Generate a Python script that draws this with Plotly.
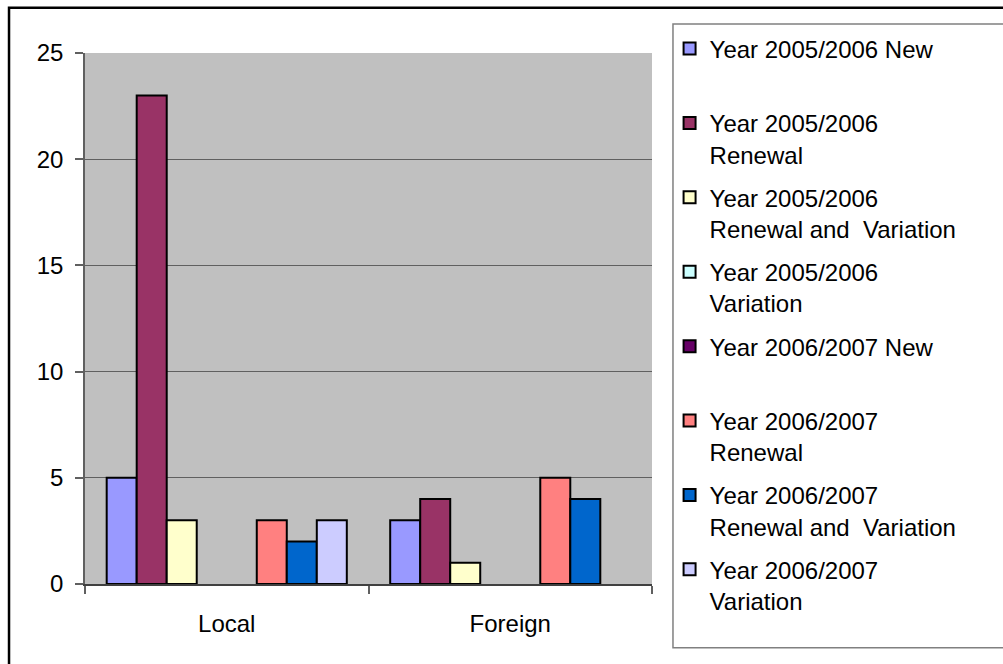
import plotly.graph_objects as go

categories = ["Local", "Foreign"]

series_names = [
    "Year 2005/2006 New<br>\u00a0",
    "Year 2005/2006<br>Renewal",
    "Year 2005/2006<br>Renewal and \u00a0Variation",
    "Year 2005/2006<br>Variation",
    "Year 2006/2007 New<br>\u00a0",
    "Year 2006/2007<br>Renewal",
    "Year 2006/2007<br>Renewal and \u00a0Variation",
    "Year 2006/2007<br>Variation",
]

new_0506 = [5, 3]
renewal_0506 = [23, 4]
renewal_var_0506 = [3, 1]
variation_0506 = [None, None]
new_0607 = [None, None]
renewal_0607 = [3, 5]
renewal_var_0607 = [2, 4]
variation_0607 = [3, None]

colors = ["#9999FF", "#993366", "#FFFFCC", "#CCFFFF",
          "#660066", "#FF8080", "#0066CC", "#CCCCFF"]

series_values = [new_0506, renewal_0506, renewal_var_0506, variation_0506,
                 new_0607, renewal_0607, renewal_var_0607, variation_0607]

FONT = "Liberation Sans, Arial, sans-serif"

fig = go.Figure()
for i, (name, vals) in enumerate(zip(series_names, series_values)):
    fig.add_trace(go.Bar(
        x=categories, y=vals, name=name,
        marker=dict(color=colors[i], line=dict(color="black", width=2)),
        legendgroup=f"g{i}",
    ))

fig.update_layout(
    width=1003, height=664,
    margin=dict(l=85, r=351, t=53, b=80, autoexpand=False),
    paper_bgcolor="white",
    plot_bgcolor="#C0C0C0",
    barmode="group",
    bargap=0.153,
    bargroupgap=0,
    font=dict(family=FONT, size=24, color="black"),
    showlegend=True,
    legend=dict(
        x=1.031, y=1.05, xanchor="left", yanchor="top",
        font=dict(family=FONT, size=24, color="black"),
        bgcolor="rgba(0,0,0,0)", borderwidth=0,
        tracegroupgap=9, traceorder="grouped",
        valign="top", maxheight=700,
        itemclick=False,
    ),
)

fig.update_xaxes(
    showgrid=False, showline=True, linecolor="#404040", linewidth=1.5,
    ticks="outside", ticklen=8, tickcolor="#606060", tickwidth=1.5,
    tickson="boundaries", ticklabelstandoff=17,
    mirror=False,
)
fig.update_yaxes(
    range=[0, 25], dtick=5, showgrid=True, gridcolor="#606060", gridwidth=1.2,
    showline=True, linecolor="#606060", linewidth=1.5,
    ticks="outside", ticklen=8, tickcolor="#606060", tickwidth=1.5,
    ticklabelstandoff=7, zeroline=False,
)

# outer chart frame
fig.add_shape(type="rect", xref="paper", yref="paper",
              x0=-0.134, x1=1.65, y0=-0.17, y1=1.085,
              line=dict(color="black", width=2.5), layer="below")
# legend box
fig.add_shape(type="rect", xref="paper", yref="paper",
              x0=1.037, x1=1.65, y0=-0.12, y1=1.0546,
              line=dict(color="#808080", width=1.5), layer="below")

fig.write_html("out.html", config={"displayModeBar": False},
               post_script="document.body.style.margin='0px';")
